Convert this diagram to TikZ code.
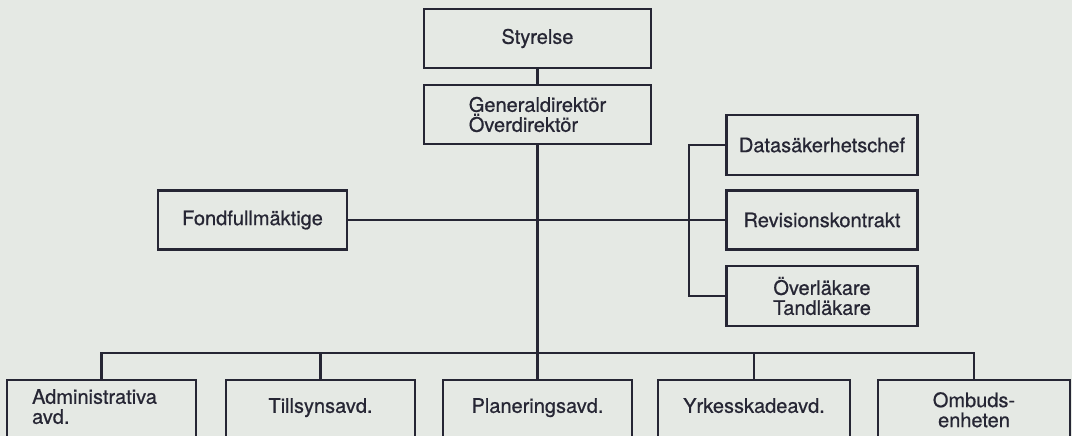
\documentclass[tikz,border=0pt]{standalone}
\usepackage{fontspec}
\setmainfont[FakeBold=0.7]{TeX Gyre Heros}
\definecolor{paper}{RGB}{229,233,228}
\definecolor{ink}{RGB}{38,38,52}
\usetikzlibrary{positioning}
\tikzset{
  orgbox/.style={draw=ink, line width=2.2pt, minimum width=189pt, minimum height=59pt, inner sep=0pt},
  orgtext/.style={text=ink, font=\fontsize{20}{20}\selectfont, inner sep=0pt, align=center},
  deptbox/.style={orgbox, anchor=north, minimum height=120pt},
  link/.style={draw=ink, line width=2.2pt},
}
\begin{document}
\begin{tikzpicture}[x=1pt,y=-1pt]

% --- Paper ---
\fill[paper] (0,0) rectangle (1072,436);
\useasboundingbox (0,0) rectangle (1072,436);
\clip (0,0) rectangle (1072,436);

% --- Top ---
\node[orgbox, orgtext, minimum width=227pt] (styrelse) at (537.5,38.5) {Styrelse};
\node[orgbox, orgtext, minimum width=227pt, align=left] (gd) at (537.5,114.5) {Generaldirektör\\Överdirektör};

% --- Staff ---
\node[orgbox, orgtext] (fond) at (252.5,220) {Fondfullmäktige};
\node[orgbox, orgtext, minimum width=191pt, minimum height=60pt] (datasak) at (822,145) {Datasäkerhetschef};
\node[orgbox, orgtext, minimum width=191pt] (revision) at (822,220) {Revisionskontrakt};
\node[orgbox, orgtext, minimum width=191pt, minimum height=60pt] (overlak) at (822,296) {Överläkare\\Tandläkare};

% --- Departments (cut off at the bottom) ---
\node[deptbox] (admin) at (101.5,379) {};
\node[deptbox] (till) at (320.5,379) {};
\node[deptbox] (plan) at (537.5,379) {};
\node[deptbox, minimum width=192pt] (yrkes) at (754,379) {};
\node[deptbox, minimum width=192pt] (ombud) at (974,379) {};

\node[orgtext, align=left, below right=10pt and 26pt of admin.north west] (admintxt) {Administrativa\\avd.};
\node[orgtext, below=19pt of till.north] (tilltxt) {Tillsynsavd.};
\node[orgtext, below=19pt of plan.north] (plantxt) {Planeringsavd.};
\node[orgtext, below=19pt of yrkes.north] (yrkestxt) {Yrkesskadeavd.};
\node[orgtext, below=13pt of ombud.north] (ombudtxt) {Ombuds-\\enheten};

% Lines
\draw[link] (styrelse) -- (gd);
\draw[link] (gd) -- (plan);
\draw[link] (fond) -- (revision);

\coordinate (rtop) at (689,145);
\coordinate (rbot) at (689,296);
\draw[link] (datasak) -- (rtop) -- (rbot) -- (overlak);

\coordinate (bus) at (537.5,353);
\draw[link] (admin.north) |- (bus) -| (ombud.north);
\foreach \d in {till,yrkes}{
  \draw[link] (\d.north) -- (\d.north |- bus);
}

\end{tikzpicture}
\end{document}
